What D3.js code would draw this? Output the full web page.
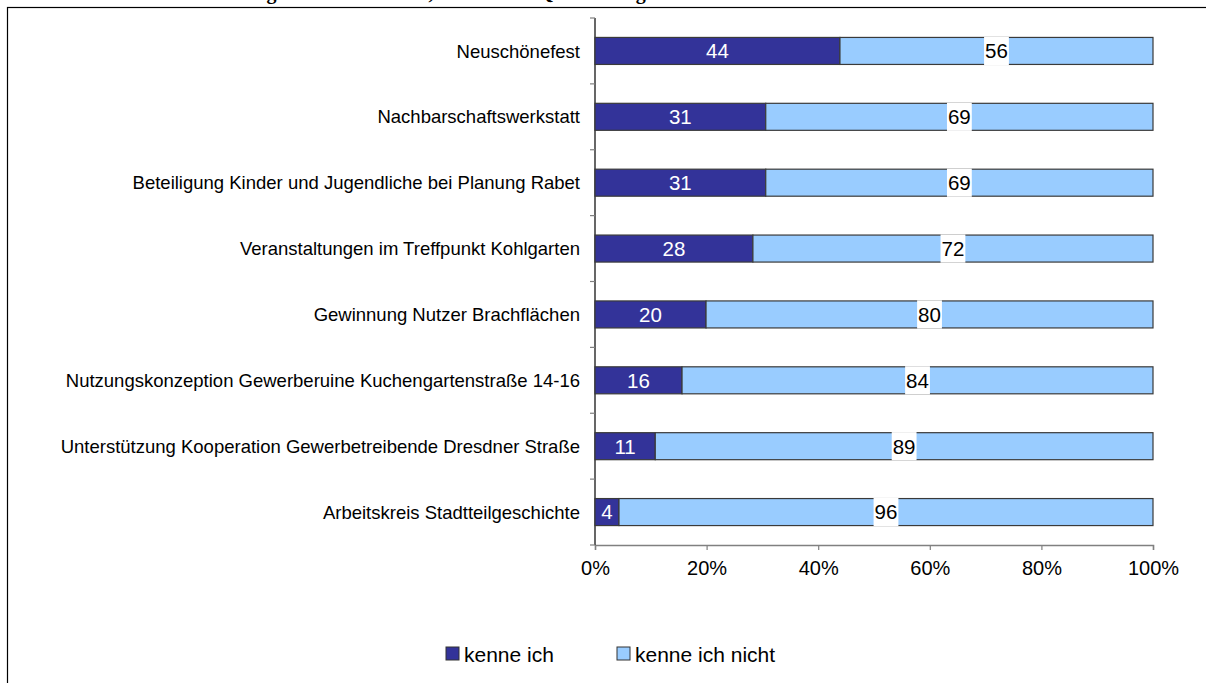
<!DOCTYPE html>
<html lang="de">
<head>
<meta charset="UTF-8">
<title>Bekanntheit der Vorhaben</title>
<script src="https://cdn.jsdelivr.net/npm/d3@7"></script>
<style>
    body { margin: 0; background: #fff; }
    svg { display: block; }
    .cat { font: 18.5px "Liberation Sans", Arial, sans-serif; fill: #000; }
    .val { font: 20.5px "Liberation Sans", Arial, sans-serif; }
    .tick-label { font: 20px "Liberation Sans", Arial, sans-serif; fill: #000; }
    .legend { font: 21px "Liberation Sans", Arial, sans-serif; fill: #000; }
    .title { font: bold 20px "Liberation Serif", "Times New Roman", serif; fill: #000; }
</style>
</head>
<body>
<div id="chart"></div>
<script>
    // values (percent)
    const categories = [
        "Neuschönefest",
        "Nachbarschaftswerkstatt",
        "Beteiligung Kinder und Jugendliche bei Planung Rabet",
        "Veranstaltungen im Treffpunkt Kohlgarten",
        "Gewinnung Nutzer Brachflächen",
        "Nutzungskonzeption Gewerberuine Kuchengartenstraße 14-16",
        "Unterstützung Kooperation Gewerbetreibende Dresdner Straße",
        "Arbeitskreis Stadtteilgeschichte"
    ];
    const known   = [43.9, 30.6, 30.6, 28.3, 19.9, 15.6, 10.8, 4.3];
    const unknown = [56.1, 69.4, 69.4, 71.7, 80.1, 84.4, 89.2, 95.7];
    const seriesNames = ["kenne ich", "kenne ich nicht"];
    const xTicks = [0, 20, 40, 60, 80, 100];

    const colors = ["#333399", "#99CCFF"];

    const W = 1206, H = 683;
    const plotLeft = 595, plotRight = 1153, plotTop = 18, plotBottom = 545;

    const svg = d3.select("#chart").append("svg")
        .attr("width", W)
        .attr("height", H);

    // title, cut off by the page edge in the original
    svg.append("text")
        .attr("class", "title")
        .attr("x", 86)
        .attr("y", -1)
        .text("Abb. 7: Bekanntheitsgrad der Vorhaben, Mai 2008 \u2013 QM-Umfrage");

    // frame
    svg.append("rect")
        .attr("x", 7.5)
        .attr("y", 7.5)
        .attr("width", 1400)
        .attr("height", 900)
        .attr("fill", "#fff")
        .attr("stroke", "#000")
        .attr("stroke-width", 1.2);

    const x = d3.scaleLinear().domain([0, 100]).range([plotLeft, plotRight]);
    const y = d3.scaleBand().domain(categories).range([plotTop, plotBottom]).padding(0);
    const barH = y.bandwidth() * 0.41;

    const rows = categories.map((c, i) => ({
        name: c,
        segs: [
            { s: 0, v: known[i], k: 0 },
            { s: known[i], v: unknown[i], k: 1 }
        ]
    }));

    // x axis
    const xAxis = svg.append("g")
        .attr("transform", "translate(0," + plotBottom + ")")
        .call(d3.axisBottom(x).tickValues(xTicks).tickSize(5).tickFormat(d => d + "%"));
    xAxis.attr("font-size", null).attr("font-family", null);
    xAxis.select(".domain").attr("stroke", "#808080").attr("stroke-width", 1.5);
    xAxis.selectAll(".tick line").attr("stroke", "#808080").attr("stroke-width", 1.2);
    xAxis.selectAll(".tick text")
        .attr("class", "tick-label")
        .attr("y", 23)
        .attr("dy", "0.36em");

    // y axis
    const yTickPos = categories.map(c => y(c)).concat([plotBottom]);
    svg.append("line")
        .attr("x1", plotLeft).attr("x2", plotLeft)
        .attr("y1", plotTop).attr("y2", plotBottom)
        .attr("stroke", "#000").attr("stroke-width", 1.2);
    svg.selectAll(".ytick")
        .data(yTickPos)
        .enter().append("line")
        .attr("class", "ytick")
        .attr("x1", plotLeft - 5).attr("x2", plotLeft)
        .attr("y1", d => d).attr("y2", d => d)
        .attr("stroke", "#808080").attr("stroke-width", 1.2);

    svg.selectAll(".cat")
        .data(categories)
        .enter().append("text")
        .attr("class", "cat")
        .attr("x", plotLeft - 15)
        .attr("y", d => y(d) + y.bandwidth() / 2)
        .attr("dy", "0.36em")
        .attr("text-anchor", "end")
        .text(d => d);

    // bars
    const row = svg.selectAll(".row")
        .data(rows)
        .enter().append("g")
        .attr("class", "row")
        .attr("transform", d => "translate(0," + (y(d.name) + (y.bandwidth() - barH) / 2) + ")");

    row.selectAll("rect")
        .data(d => d.segs)
        .enter().append("rect")
        .attr("x", d => x(d.s))
        .attr("y", 0)
        .attr("width", d => x(d.s + d.v) - x(d.s))
        .attr("height", barH)
        .attr("fill", d => colors[d.k])
        .attr("stroke", "#3a3a3a")
        .attr("stroke-width", 1.2);

    // value labels
    row.each(function(d) {
        const g = d3.select(this);
        d.segs.forEach(s => {
            const cx = (x(s.s) + x(s.s + s.v)) / 2;
            const t = g.append("text")
                .attr("class", "val")
                .attr("x", cx)
                .attr("y", barH / 2)
                .attr("dy", "0.36em")
                .attr("text-anchor", "middle")
                .attr("fill", s.k === 0 ? "#fff" : "#000")
                .text(Math.round(s.v));
            if (s.k === 1) {
                const bb = t.node().getBBox();
                g.insert("rect", () => t.node())
                    .attr("x", bb.x - 1)
                    .attr("y", -0.6)
                    .attr("width", bb.width + 2)
                    .attr("height", barH + 1.2)
                    .attr("fill", "#fff");
            }
        });
    });

    // legend
    const legendX = [446, 617];
    const legend = svg.selectAll(".leg")
        .data(seriesNames)
        .enter().append("g")
        .attr("class", "leg")
        .attr("transform", (d, i) => "translate(" + legendX[i] + ",647)");
    legend.append("rect")
        .attr("width", 13).attr("height", 13)
        .attr("fill", (d, i) => colors[i])
        .attr("stroke", "#333").attr("stroke-width", 1);
    legend.append("text")
        .attr("class", "legend")
        .attr("x", 18)
        .attr("y", 7)
        .attr("dy", "0.36em")
        .text(d => d);
</script>
</body>
</html>
